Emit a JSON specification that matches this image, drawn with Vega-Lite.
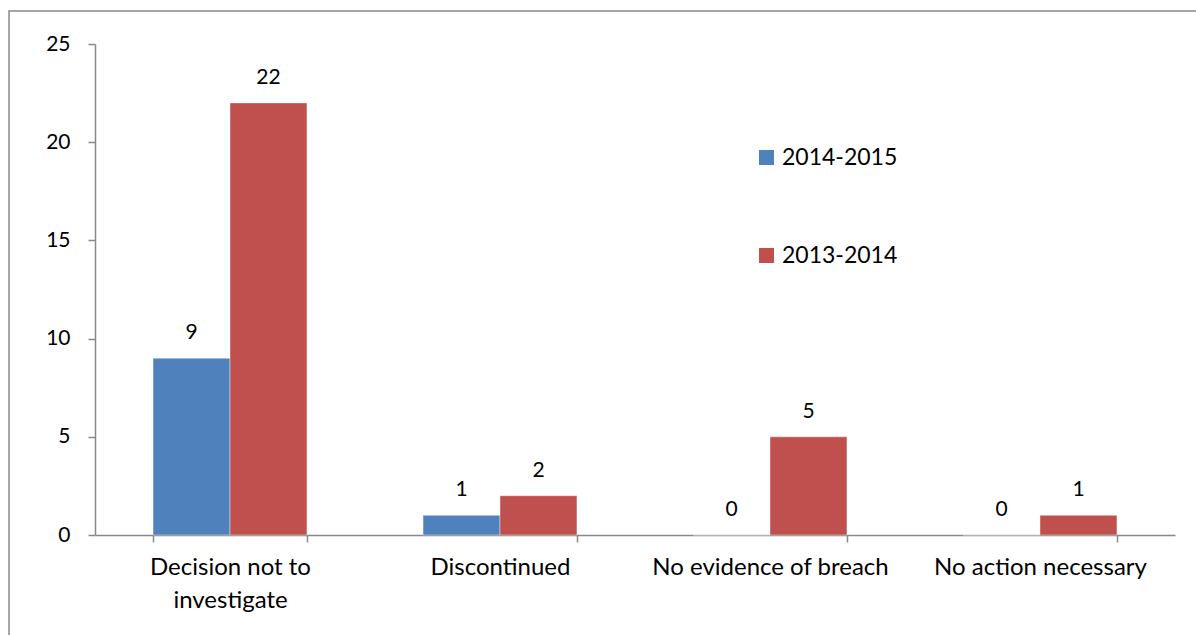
{
  "$schema": "https://vega.github.io/schema/vega-lite/v6.json",
  "width": 1190,
  "height": 628,
  "padding": {"left": 9, "top": 11, "right": 0, "bottom": 0},
  "background": "white",
  "config": {
    "view": {"stroke": "#898989", "strokeWidth": 1.5},
    "font": "Lato",
    "axis": {"labelFont": "Lato", "labelColor": "black", "labelFontSize": 21, "domainColor": "#898989", "tickColor": "#898989", "domainWidth": 1.5, "tickWidth": 1.5, "grid": false, "title": null}
  },
  "data": {
    "values": [
      {"category": "Decision not to investigate", "series": "2014-2015", "value": 9},
      {"category": "Decision not to investigate", "series": "2013-2014", "value": 22},
      {"category": "Discontinued", "series": "2014-2015", "value": 1},
      {"category": "Discontinued", "series": "2013-2014", "value": 2},
      {"category": "No evidence of breach", "series": "2014-2015", "value": 0},
      {"category": "No evidence of breach", "series": "2013-2014", "value": 5},
      {"category": "No action necessary", "series": "2014-2015", "value": 0},
      {"category": "No action necessary", "series": "2013-2014", "value": 1}
    ]
  },
  "encoding": {
    "x": {
      "field": "category", "type": "nominal", "sort": null,
      "scale": {"range": [86, 1166], "paddingInner": 0.43, "paddingOuter": 0.215},
      "axis": {
        "orient": "bottom", "offset": -104, "labelAngle": 0, "tickBand": "extent", "tickSize": 7,
        "labelPadding": 13, "labelLineHeight": 33, "labelFontSize": 24, "labelLimit": 0,
        "labelExpr": "datum.value == 'Decision not to investigate' ? ['Decision not to', 'investigate'] : datum.value"
      }
    },
    "xOffset": {"field": "series", "type": "nominal", "sort": ["2014-2015", "2013-2014"]},
    "y": {
      "field": "value", "type": "quantitative",
      "scale": {"domain": [0, 25], "range": [524, 33], "nice": false, "zero": true},
      "axis": {"orient": "left", "offset": -86, "values": [0, 5, 10, 15, 20, 25], "tickSize": 7, "labelPadding": 18}
    }
  },
  "layer": [
    {
      "mark": {"type": "bar", "stroke": "white", "strokeOpacity": 0.5, "strokeWidth": 0.8},
      "encoding": {
        "color": {
          "field": "series", "type": "nominal",
          "scale": {"domain": ["2014-2015", "2013-2014"], "range": ["#4F81BD", "#C0504D"]},
          "legend": {
            "title": null, "orient": "none", "legendX": 746, "legendY": 135,
            "symbolType": "square", "symbolSize": 225, "symbolStrokeWidth": 0, "symbolOpacity": 1,
            "labelFont": "Lato", "labelFontSize": 23, "labelColor": "black", "labelOffset": 4,
            "rowPadding": 74, "padding": 0
          }
        }
      }
    },
    {
      "mark": {"type": "text", "baseline": "alphabetic", "dy": -19, "fontSize": 21, "font": "Lato", "color": "black"},
      "encoding": {"text": {"field": "value", "type": "quantitative"}}
    }
  ]
}
